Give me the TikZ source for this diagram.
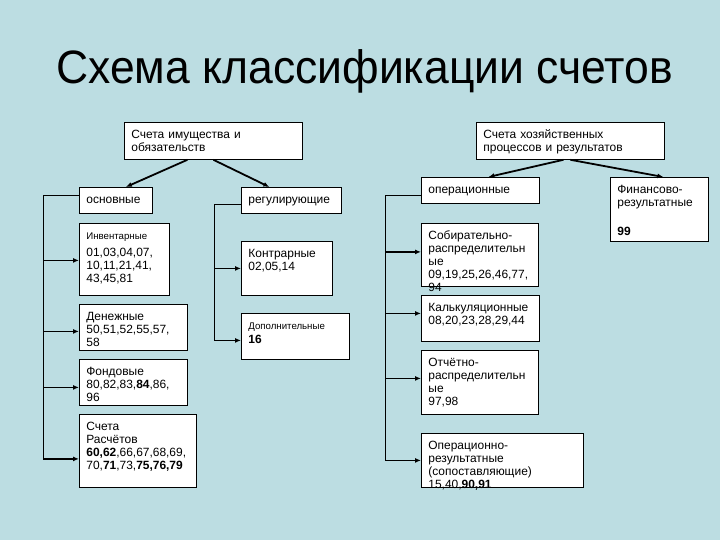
\documentclass[tikz,border=0pt]{standalone}
\usepackage{fontspec}
\setmainfont{Liberation Sans}
\newfontfamily\titlefont[FakeStretch=0.95]{Liberation Sans}
\usetikzlibrary{arrows.meta}
\definecolor{slidebg}{RGB}{188,221,226}
\newcommand{\smalltext}{\fontsize{9.7}{11}\selectfont}
\hyphenpenalty=10000
\exhyphenpenalty=10000

\begin{document}
\begin{tikzpicture}[
        x=1bp,
        y=-1bp,
        font=\fontsize{12}{13}\selectfont,
        cell/.style={
            draw,
            fill=white,
            line width=0.8bp,
            anchor=north west,
            align=left,
            inner xsep=7bp,
            inner ysep=0pt,
            text height=16bp
        },
        link/.style={
            -{Latex[length=6bp,width=5bp]},
            line width=1.8bp
        },
        bus/.style={
            line width=0.8bp
        },
        arrow/.style={
            -{Latex[length=6bp,width=5bp]},
            line width=1.6bp
        }
    ]

        % Фон и заголовок
        \fill[slidebg] (0,0) rectangle (720,540);
        \node[anchor=base west, inner sep=0pt,
            font=\titlefont\fontsize{47}{50}\selectfont]
            (title) at (56,84) {Схема классификации счетов};

        % Уровень 1: две группы счетов
        \node[cell, text width=164bp, text depth=21bp] (acc1) at (124,122)
            {Счета имущества и\\обязательств};
        \node[cell, text width=174bp, text depth=21bp] (acc2) at (476,122)
            {Счета хозяйственных\\процессов и результатов};

        % Уровень 2
        \node[cell, text width=59bp, text depth=10bp] (osn) at (79,187)
            {основные};
        \node[cell, text width=86bp, text depth=10bp] (reg) at (241,187)
            {регулирующие};
        \node[cell, text width=104bp, text depth=10bp] (oper) at (421,177)
            {операционные};
        \node[cell, text width=84bp, text depth=48bp] (fin) at (610,177)
            {Финансово-\\результатные\\[16bp]\textbf{99}};

        % Основные счета
        \node[cell, text width=76bp, text depth=56bp] (inv) at (79,223)
            {{\smalltext Инвентарные}\\[4bp]01,03,04,07,\\10,11,21,41,\\43,45,81};
        \node[cell, text width=94bp, text depth=30bp] (den) at (79,304)
            {Денежные\\50,51,52,55,57,\\58};
        \node[cell, text width=94bp, text depth=30bp] (fond) at (79,359)
            {Фондовые\\80,82,83,\textbf{84},86,\\96};
        \node[cell, text width=103bp, text depth=57bp] (rasch) at (79,414)
            {Счета\\Расчётов\\\textbf{60,62},66,67,68,69,\\70,\textbf{71},73,\textbf{75,76,79}};

        % Регулирующие счета
        \node[cell, text width=77bp, text depth=38bp] (kontr) at (241,241)
            {Контрарные\\02,05,14};
        \node[cell, text width=94bp, text depth=30bp] (dop) at (241,313)
            {{\smalltext Дополнительные}\\[1bp]\textbf{16}};

        % Операционные счета
        \node[cell, text width=103bp, text depth=47bp] (sob) at (421,223)
            {Собирательно-\\распределительн\\ые\\09,19,25,26,46,77,\\94};
        \node[cell, text width=104bp, text depth=30bp] (kalk) at (421,295)
            {Калькуляционные\\08,20,23,28,29,44};
        \node[cell, text width=103bp, text depth=48bp] (otch) at (421,350)
            {Отчётно-\\распределительн\\ые\\97,98};
        \node[cell, text width=148bp, text depth=38bp] (opres) at (421,433)
            {Операционно-\\результатные\\(сопоставляющие)\\15,40,\textbf{90,91}};

        % Связи верхнего уровня
        \draw[link] ([xshift=-26bp]acc1.south) -- ([xshift=10bp]osn.north);
        \draw[link] (acc1.south) -- ([xshift=-22bp]reg.north);
        \draw[link] ([xshift=-7bp]acc2.south) -- ([xshift=8bp]oper.north);
        \draw[link] (acc2.south) -- ([xshift=4bp]fin.north);

        % Шины с ответвлениями
        \draw[bus] ([yshift=5bp]osn.west) -- ++(-36,0) coordinate (busL)
            -- ([yshift=-8bp]rasch.west -| busL);
        \foreach \n/\dy in {inv/-1bp, den/-4bp, fond/-5bp, rasch/-8bp}
            \draw[arrow] ([yshift=\dy]\n.west -| busL) -- ([yshift=\dy]\n.west);

        \draw[bus] ([yshift=-4bp]reg.west) -- ++(-27,0) coordinate (busR)
            -- ([yshift=-4bp]dop.west -| busR);
        \foreach \n/\dy in {kontr/0bp, dop/-4bp}
            \draw[arrow] ([yshift=\dy]\n.west -| busR) -- ([yshift=\dy]\n.west);

        \draw[bus] ([yshift=-5bp]oper.west) -- ++(-36,0) coordinate (busO)
            -- (opres.west -| busO);
        \foreach \n/\dy in {sob/3bp, kalk/5bp, otch/4bp, opres/0bp}
            \draw[arrow] ([yshift=\dy]\n.west -| busO) -- ([yshift=\dy]\n.west);

    \end{tikzpicture}
\end{document}
